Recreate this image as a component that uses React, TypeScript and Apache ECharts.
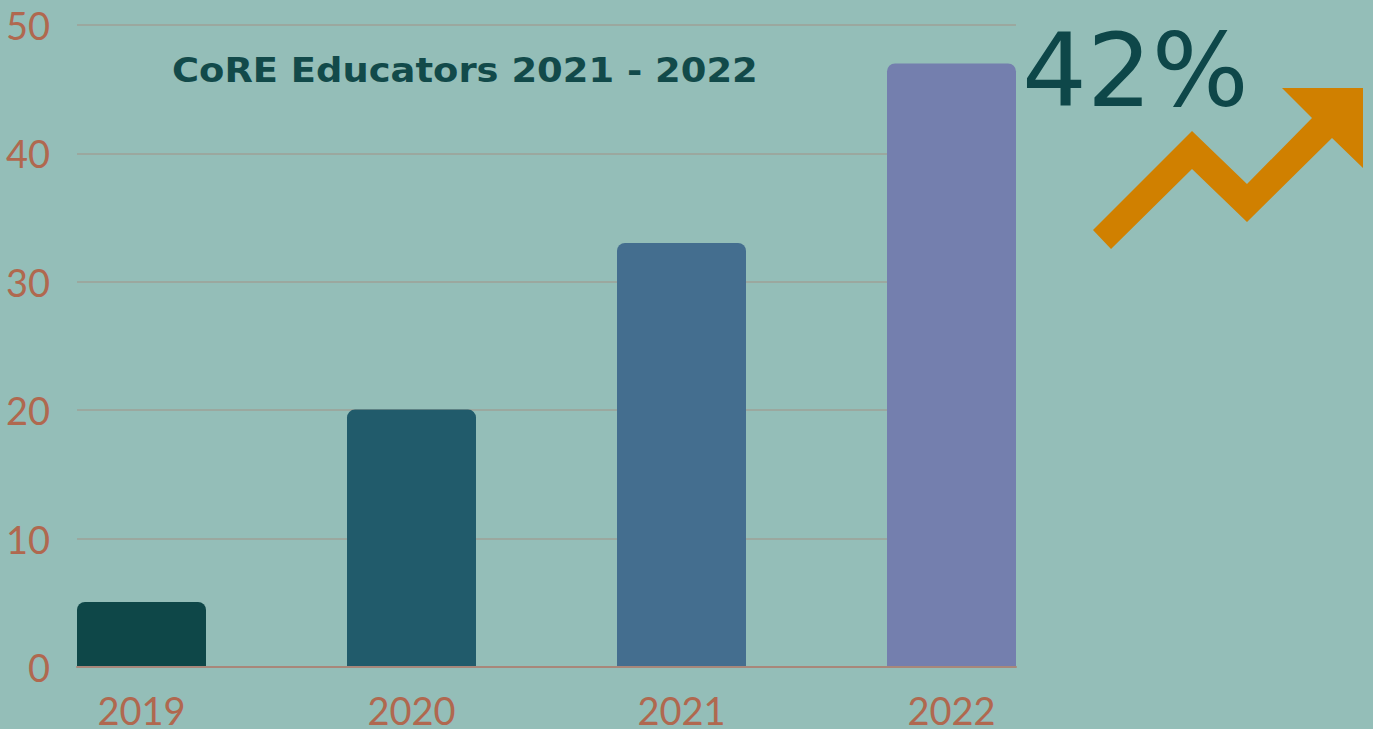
import React, { useEffect, useRef } from "react";
import * as echarts from "echarts";

const categories = ["2019", "2020", "2021", "2022"];
const educators = [5, 20, 33, 47];
const barColors = ["#0E4748", "#215B6B", "#446E8F", "#747FAE"];
const yTicks = [0, 10, 20, 30, 40, 50];
const titleText = "CoRE Educators 2021 - 2022";
const growthText = "42%";

const arrowPoints = [
  [1093, 230], [1192, 131], [1247, 184], [1312, 118], [1282, 88], [1363, 88],
  [1363, 168], [1332, 138], [1247, 222], [1192, 169], [1111, 249],
];

export default function App() {
  const ref = useRef<HTMLDivElement>(null);
  useEffect(() => {
    document.body.style.margin = "0";
    const chart = echarts.init(ref.current!, null, { renderer: "svg" });
    const labelColor = "#B0684F";
    chart.setOption({
      animation: false,
      backgroundColor: "#94BEB8",
      grid: [
        { left: 77, right: 357, top: 25, bottom: 62 },
        { left: 6.5, right: 286.5, top: 25, bottom: 62 },
      ],
      xAxis: [
        {
          gridIndex: 0, type: "category", data: categories,
          axisLine: { show: true, lineStyle: { color: "#A8877A", width: 2 } },
          axisTick: { show: false }, axisLabel: { show: false },
        },
        {
          gridIndex: 1, type: "category", data: categories,
          axisLine: { show: false }, axisTick: { show: false },
          axisLabel: { color: labelColor, fontSize: 38, fontFamily: "Lato", margin: 29, lineHeight: 30 },
        },
      ],
      yAxis: [
        {
          gridIndex: 0, type: "value", min: yTicks[0], max: yTicks[yTicks.length - 1], interval: 10,
          axisLine: { show: false }, axisTick: { show: false },
          axisLabel: { color: labelColor, fontSize: 38, fontFamily: "Lato", margin: 27 },
          splitLine: { lineStyle: { color: "#9BA89F", width: 2 } },
        },
        {
          gridIndex: 1, type: "value", min: 0, max: 50, show: false,
        },
      ],
      series: [
        {
          type: "bar", xAxisIndex: 1, yAxisIndex: 1, barWidth: 129,
          data: educators.map((v, i) => ({ value: v, itemStyle: { color: barColors[i] } })),
          itemStyle: { borderRadius: [8, 8, 0, 0] },
        },
      ],
      graphic: [
        {
          type: "text", x: 172, y: 53, scaleX: 1.085,
          style: { text: titleText, fill: "#124A4A", font: "bold 34px 'DejaVu Sans'" },
        },
        {
          type: "text", x: 1022, y: 19,
          style: { text: growthText, fill: "#0E4749", font: "normal 102px 'DejaVu Sans'" },
        },
        {
          type: "polygon",
          shape: { points: arrowPoints },
          style: { fill: "#D08000" },
        },
      ],
    });
    return () => chart.dispose();
  }, []);
  return <div ref={ref} style={{ width: 1373, height: 729 }} />;
}
